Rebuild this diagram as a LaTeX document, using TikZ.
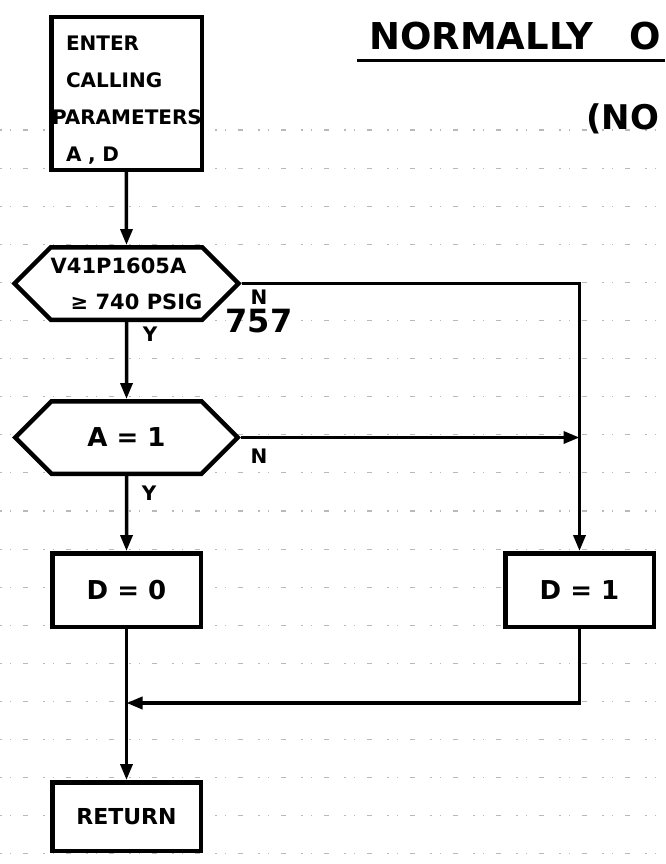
\documentclass[tikz,border=0pt]{standalone}
\usepackage{fontspec}
\setmainfont{DejaVu Sans}
\usetikzlibrary{positioning, shapes.symbols, arrows.meta}

\begin{document}
\begin{tikzpicture}[x=1pt, y=-1pt,
    entry/.style={rectangle, draw, line width=4.5pt, fill=white, minimum width=150.5pt, minimum height=152.5pt, text width=149pt, inner xsep=0.75pt, align=left, font=\fontsize{20}{37}\selectfont\bfseries},
    decision/.style={signal, signal to=west and east, signal pointer angle=90, draw, line width=4.5pt, fill=white, minimum width=222.5pt, minimum height=72.5pt, inner sep=0pt, align=left, font=\fontsize{21}{36}\selectfont\bfseries},
    process/.style={rectangle, draw, line width=4.5pt, fill=white, minimum width=148.5pt, minimum height=73.5pt, font=\fontsize{26}{26}\selectfont\bfseries},
    branch/.style={inner sep=0pt, font=\fontsize{20}{20}\selectfont\bfseries},
    flow/.style={-{Triangle[length=16pt, width=12pt]}, line width=3.5pt},
    ruling/.style={gray!55, line width=1.1pt, dash pattern=on 2pt off 8pt on 1pt off 12pt on 5pt off 15pt}
]

\useasboundingbox (0,0) rectangle (665,864);
\fill [white] (0,0) rectangle (665,864);

% Ruled paper
\foreach \k in {0,...,19}
    \draw [ruling] (0,{130+38.1*\k}) -- (665,{130+38.1*\k});

% Heading
\node (title) [anchor=base west, inner sep=0pt, font=\fontsize{37}{37}\selectfont\bfseries] at (369,50) {NORMALLY\hspace{36pt}O};
\node (subtitle) [anchor=base west, inner sep=0pt, font=\fontsize{34}{34}\selectfont\bfseries] at (586,130) {(NO};
\draw [line width=3pt] (357,61) -- (665,61);

% Flow
\node (enter) [entry] at (126.5,93.5) {\rule{0pt}{27pt}\hspace*{14pt}ENTER\\\hspace*{14pt}CALLING\\PARAMETERS\\\hspace*{14pt}A , D};
\node (hexA) [decision, below=73pt of enter] {V41P1605A\\\hspace*{20pt}≥ 740 PSIG};
\node (hexB) [decision, below=77pt of hexA, font=\fontsize{26}{26}\selectfont\bfseries] {A = 1};
\node (setzero) [process, below=75pt of hexB] {D = 0};
\node (setone) [process, right=300pt of setzero] {D = 1};
\node (ret) [process, below=151pt of setzero, minimum height=68.5pt, font=\fontsize{22}{22}\selectfont\bfseries] {RETURN};

% Joins
\coordinate (joinA) at (hexB.east -| setone.north);
\coordinate (joinB) at ([yshift=-74pt]setzero.south);

% Branch marks
\node (nA) [branch] at (259,297) {N};
\node (count) [inner sep=0pt, font=\fontsize{32}{32}\selectfont\bfseries] at (259,321) {757};
\node (yA) [branch] at (150,334) {Y};
\node (nB) [branch] at (259,456) {N};
\node (yB) [branch] at (149,493) {Y};

% Arrows
\draw [flow] (enter) -- (hexA);
\draw [flow] (hexA) -- (hexB);
\draw [flow] (hexB) -- (setzero);
\draw [flow] (hexA.east) -| (setone.north);
\draw [flow] (hexB.east) -- (joinA);
\draw [flow] (setone.south) |- (joinB);
\draw [flow] (setzero) -- (ret);

\end{tikzpicture}
\end{document}
